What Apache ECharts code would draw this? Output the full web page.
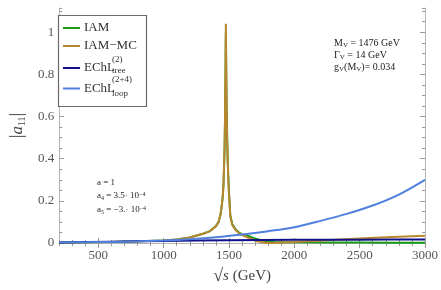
<!DOCTYPE html>
<html><head><meta charset="utf-8">
<script src="https://cdn.jsdelivr.net/npm/echarts@6/dist/echarts.min.js"></script>
<style>html,body{margin:0;padding:0;background:#fff}#c{width:441px;height:290px}</style>
</head><body><div id="c"></div>
<script>
// ---- data ----
var peakX = [200,400,600,800,1000,1100,1200,1300,1350,1400,1420,1435,1445,1452,1458,1462,1466,1469,1471,1473,1474.5,1476,1477.5,1479,1481,1483,1486,1490,1494,1500,1510,1525,1550,1575,1600,1650,1700,1750,1800,1850,1900,2000,2250,2500,2750,3000];
var iamY  = [0.002,0.003,0.005,0.008,0.012,0.017,0.026,0.044,0.055,0.08,0.1,0.135,0.18,0.22,0.28,0.36,0.45,0.57,0.68,0.78,0.9,1.0,0.9,0.8,0.7,0.6,0.5,0.4,0.32,0.24,0.13,0.09,0.065,0.05,0.041,0.033,0.021,0.012,0.007,0.005,0.004,0.003,0.002,0.002,0.001,0.001];
var mcY   = [0.002,0.003,0.005,0.008,0.012,0.017,0.026,0.044,0.055,0.08,0.1,0.135,0.18,0.22,0.28,0.36,0.45,0.57,0.7,0.81,0.94,1.04,0.92,0.8,0.69,0.58,0.48,0.39,0.31,0.23,0.125,0.085,0.062,0.048,0.038,0.025,0.011,0.003,0.0005,0.0005,0.002,0.005,0.013,0.021,0.028,0.034];
var treeX = [200,600,1000,1500,2000,2500,3000];
var treeY = [0.002,0.006,0.01,0.013,0.015,0.016,0.017];
var loopX = [200,400,600,800,1000,1200,1400,1600,1800,2000,2200,2400,2600,2800,3000];
var loopY = [0.003,0.004,0.005,0.008,0.012,0.018,0.027,0.04,0.056,0.075,0.105,0.138,0.178,0.23,0.3];
var xTicks = [500,1000,1500,2000,2500,3000];
var yTicks = [0,0.2,0.4,0.6,0.8,1];
var names = ['IAM','IAM\u2212MC','EChL tree','EChL loop'];
var colors = ['#1a9a1a','#b8862e','#10108c','#4f7fdf'];

function pairs(xs, ys){ return xs.map(function(x,i){ return [x, ys[i]]; }); }

var serif = 'Liberation Serif';
var frameColor = '#b5b5b5', tickColor = '#9a9a9a';

function xAx(pos, major, labels){
  return {
    type:'value', gridIndex:0, position:pos, min:200, max:3000, interval:100,
    axisLine:{show:major, lineStyle:{color:frameColor, width:1}},
    axisTick:major ? {show:true, inside:true, length:5, customValues:xTicks, lineStyle:{color:tickColor}}
                   : {show:true, inside:true, length:3, lineStyle:{color:tickColor}},
    axisLabel: labels ? {show:true, customValues:xTicks, color:'#555', fontFamily:serif, fontSize:13, margin:6,
                         formatter:function(v){ return String(Math.round(v)); }} : {show:false},
    splitLine:{show:false}
  };
}
function yAx(pos, major, labels){
  return {
    type:'value', gridIndex:0, position:pos, min:0, max:1.115, interval:0.05,
    axisLine:{show:major, lineStyle:{color:frameColor, width:1}},
    axisTick:major ? {show:true, inside:true, length:5, customValues:yTicks, lineStyle:{color:tickColor}}
                   : {show:true, inside:true, length:3, lineStyle:{color:tickColor}},
    axisLabel: labels ? {show:true, customValues:yTicks, color:'#555', fontFamily:serif, fontSize:13, margin:5,
                         formatter:function(v){ return String(Math.round(v*10)/10); }} : {show:false},
    splitLine:{show:false}
  };
}

var xb = xAx('bottom', true, true);
xb.name = '{r|\u221A}{s|s} (GeV)';
xb.nameLocation = 'middle';
xb.nameGap = 24;
xb.nameTextStyle = {fontFamily:serif, fontSize:15, color:'#444', rich:{r:{fontFamily:serif,fontSize:18,color:'#444'}, s:{fontFamily:serif,fontSize:15,fontStyle:'italic',color:'#444'}}};
var yl = yAx('left', true, true);
yl.name = '{b||}{a|a}{s|11}{b||}';
yl.nameLocation = 'middle';
yl.nameGap = 27;
yl.nameRotate = 90;
yl.nameTextStyle = {fontFamily:serif, fontSize:16, color:'#444', rich:{
  b:{fontFamily:serif,fontSize:19,color:'#444'},
  a:{fontFamily:serif,fontSize:17,fontStyle:'italic',color:'#444'},
  s:{fontFamily:serif,fontSize:10,color:'#444',verticalAlign:'bottom',padding:[6,0,0,0]}}};

var legends = [];
var legTops = [28, 46, 68, 88.5];
var legLabels = ['IAM','IAM\u2212MC','EChL','EChL'];
names.forEach(function(n,i){
  legends.push({
    data:[n], left:63, top:legTops[i]-7, padding:0, orient:'vertical', z:10,
    icon:'rect', itemWidth:17, itemHeight:2, itemGap:0,
    formatter:function(){ return legLabels[i]; },
    textStyle:{fontFamily:serif, fontSize:13, lineHeight:14, color:'#333', padding:[0,0,0,-1]}
  });
});

var chart = echarts.init(document.getElementById('c'), null, {renderer:'canvas'});
chart.setOption({
  animation:false,
  backgroundColor:'#fff',
  grid:{left:48, right:12, top:8, bottom:45},
  xAxis:[xb, xAx('bottom', false, false), xAx('top', true, false), xAx('top', false, false)],
  yAxis:[yl, yAx('left', false, false), yAx('right', true, false), yAx('right', false, false)],
  legend:legends,
  series:[
    {name:names[0], type:'line', data:pairs(peakX, iamY), showSymbol:false, symbol:'none', color:colors[0], lineStyle:{width:2, color:colors[0]}},
    {name:names[1], type:'line', data:pairs(peakX, mcY), showSymbol:false, symbol:'none', color:colors[1], lineStyle:{width:2, color:colors[1]}},
    {name:names[2], type:'line', data:pairs(treeX, treeY), smooth:0.3, showSymbol:false, symbol:'none', color:colors[2], lineStyle:{width:2, color:colors[2]}},
    {name:names[3], type:'line', data:pairs(loopX, loopY), smooth:0.3, showSymbol:false, symbol:'none', color:colors[3], lineStyle:{width:2, color:colors[3]}}
  ],
  graphic:[
    {type:'rect', z:9, shape:{x:58.5, y:15.5, width:88, height:91}, style:{fill:'#fff', stroke:'#6a6a6a', lineWidth:1.2}},
    {type:'text', z:11, left:112, top:55, style:{text:'(2)', font:'9px "Liberation Serif"', fill:'#333'}},
    {type:'text', z:11, left:112, top:66, style:{text:'tree', font:'9px "Liberation Serif"', fill:'#333'}},
    {type:'text', z:11, left:112, top:75, style:{text:'(2+4)', font:'9px "Liberation Serif"', fill:'#333'}},
    {type:'text', z:11, left:112, top:89, style:{text:'loop', font:'9px "Liberation Serif"', fill:'#333'}},
    {type:'text', z:11, left:334, top:38, style:{text:'M{s|V} = 1476 GeV', font:'10px "Liberation Serif"', fill:'#222', rich:{s:{fontSize:7, fontFamily:serif, fill:'#222', verticalAlign:'bottom', padding:[4,0,0,0]}}}},
    {type:'text', z:11, left:334, top:50, style:{text:'\u0393{s|V} = 14 GeV', font:'10px "Liberation Serif"', fill:'#222', rich:{s:{fontSize:7, fontFamily:serif, fill:'#222', verticalAlign:'bottom', padding:[4,0,0,0]}}}},
    {type:'text', z:11, left:334, top:62, style:{text:'g{s|V}(M{s|V})= 0.034', font:'10px "Liberation Serif"', fill:'#222', rich:{s:{fontSize:7, fontFamily:serif, fill:'#222', verticalAlign:'bottom', padding:[4,0,0,0]}}}},
    {type:'text', z:11, left:97, top:178, style:{text:'a = 1', font:'9px "Liberation Serif"', fill:'#222'}},
    {type:'text', z:11, left:97, top:191, style:{text:'a{s|4} = 3.5\u00B7 10{p|\u22124}', font:'9px "Liberation Serif"', fill:'#222', rich:{s:{fontSize:6, fontFamily:serif, fill:'#222', verticalAlign:'bottom', padding:[4,0,0,0]}, p:{fontSize:6, fontFamily:serif, fill:'#222', verticalAlign:'top', padding:[0,0,4,0]}}}},
    {type:'text', z:11, left:97, top:205, style:{text:'a{s|5} = \u22123.\u00B7 10{p|\u22124}', font:'9px "Liberation Serif"', fill:'#222', rich:{s:{fontSize:6, fontFamily:serif, fill:'#222', verticalAlign:'bottom', padding:[4,0,0,0]}, p:{fontSize:6, fontFamily:serif, fill:'#222', verticalAlign:'top', padding:[0,0,4,0]}}}}
  ]
});
</script></body></html>
